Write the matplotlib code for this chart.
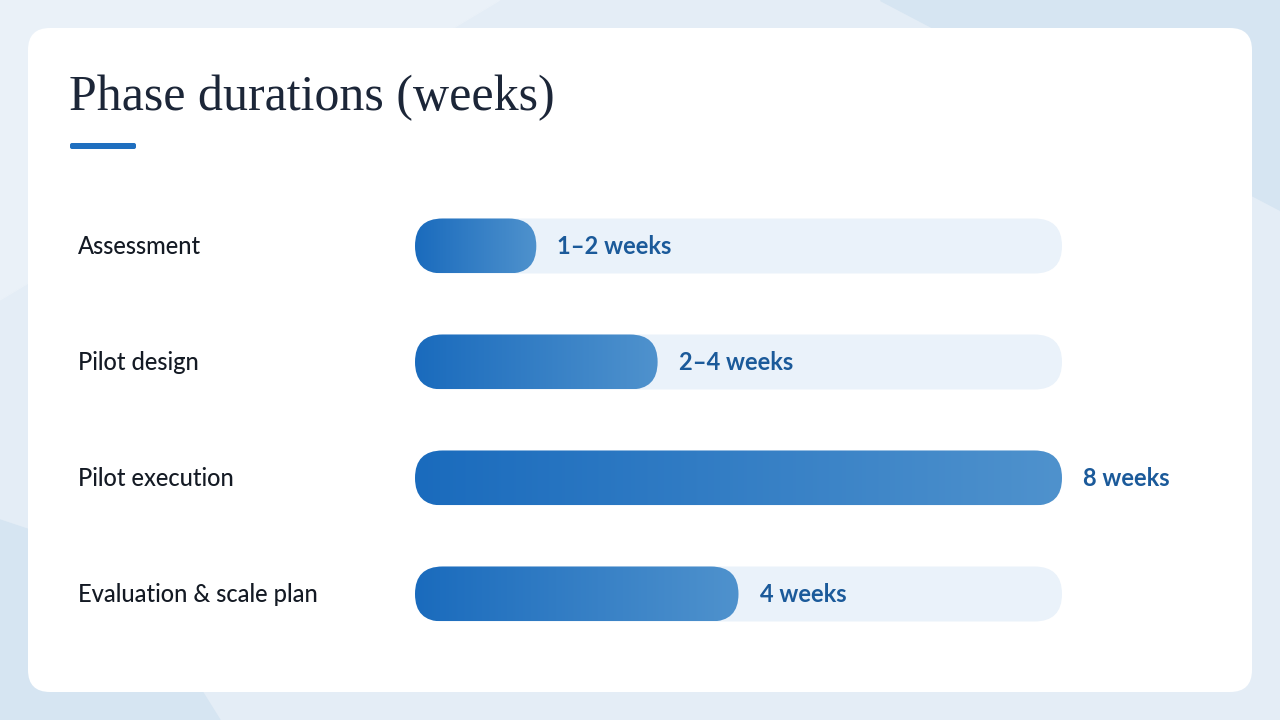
import numpy as np
import matplotlib.pyplot as plt
from matplotlib.patches import FancyBboxPatch, Polygon
from matplotlib.colors import LinearSegmentedColormap

# ---- data ----
phases = ["Assessment", "Pilot design", "Pilot execution", "Evaluation & scale plan"]
weeks = [1.5, 3.0, 8.0, 4.0]
labels = ["1–2 weeks", "2–4 weeks", "8 weeks", "4 weeks"]
max_weeks = 8.0

W, H = 1280, 720
fig = plt.figure(figsize=(12.8, 7.2), dpi=100)
bg = fig.add_axes([0, 0, 1, 1])
bg.set_xlim(0, W)
bg.set_ylim(H, 0)
bg.axis("off")
bg.add_patch(plt.Rectangle((0, 0), W, H, color="#e4edf6", zorder=0))
# soft background shapes
bg.add_patch(Polygon([[880, 0], [1280, 0], [1280, 210]], color="#d6e5f2", zorder=0))
bg.add_patch(Polygon([[0, 520], [120, 560], [220, 720], [0, 720]], color="#d6e5f2", zorder=0))
bg.add_patch(Polygon([[0, 0], [500, 0], [0, 300]], color="#eaf1f8", zorder=0))

# white card
bg.add_patch(FancyBboxPatch((28 + 22, 28 + 22), 1224 - 44, 664 - 44,
                            boxstyle="round,pad=22", fc="white", ec="none", zorder=1))

# title + accent
bg.text(69, 98, "Phase durations (weeks)", fontsize=36, family="Liberation Serif",
        color="#1c2638", va="center", zorder=3)
bg.add_patch(FancyBboxPatch((72, 145), 62, 2, boxstyle="round,pad=2",
                            fc="#1f6fbf", ec="none", zorder=3))

# bar axes defines the value scale
track_x0, track_x1 = 415, 1062
ax = fig.add_axes([track_x0 / W, 0, (track_x1 - track_x0) / W, 1])
ax.set_xlim(0, max_weeks)
ax.axis("off")

ys = [246, 362, 478, 594]
bh = 55
r = bh / 2
grad = np.linspace(0, 1, 256).reshape(1, -1)
cmap = LinearSegmentedColormap.from_list("g", ["#1a6bbd", "#4f92cd"])


def to_px(v):
    return fig.transFigure.inverted().transform(ax.transData.transform((v, 0)))[0] * W


for name, w, lab, yc in zip(phases, weeks, labels, ys):
    px0, px1, pxe = to_px(0), to_px(w), to_px(max_weeks)
    # track
    bg.add_patch(FancyBboxPatch((px0 + r, yc), pxe - px0 - 2 * r, 0, boxstyle=f"round,pad={r}",
                                fc="#eaf2fa", ec="none", zorder=2))
    # filled bar with gradient
    clip = FancyBboxPatch((px0 + r, yc), px1 - px0 - 2 * r, 0,
                          boxstyle=f"round,pad={r}", fc="none", ec="none", zorder=3)
    bg.add_patch(clip)
    im = bg.imshow(grad, cmap=cmap, aspect="auto", extent=(px0, px1, yc + r, yc - r), zorder=3)
    im.set_clip_path(clip)
    bg.text(78, yc, name, fontsize=17, family="Lato", fontweight="medium",
            color="#141a24", va="center", zorder=4)
    bg.text(px1 + 21, yc, lab, fontsize=17, family="Lato", fontweight="bold",
            color="#1b5a9a", va="center", zorder=4)

bg.set_xlim(0, W)
bg.set_ylim(H, 0)
fig.savefig("out.png", dpi=100)
